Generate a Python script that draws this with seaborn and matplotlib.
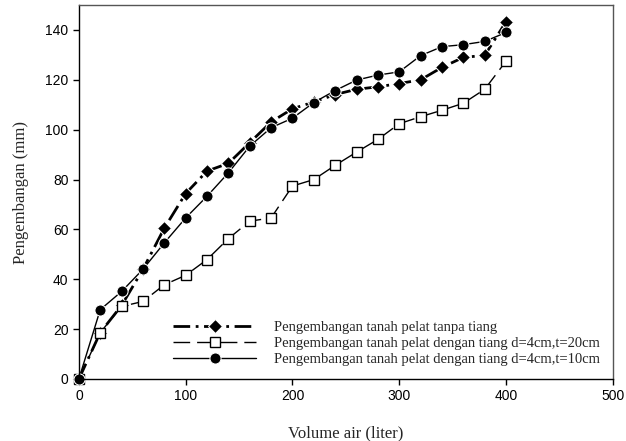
import matplotlib
matplotlib.use('Agg')
import matplotlib.pyplot as plt
import seaborn as sns

# data
volume = [0, 20, 40, 60, 80, 100, 120, 140, 160, 180, 200,
          220, 240, 260, 280, 300, 320, 340, 360, 380, 400]
tanpa_tiang = [0, 18.6, 29.5, 44, 60.5, 74.4, 83.4, 86.5, 94.8, 103.1, 108.4,
               111.1, 114.1, 116.2, 117.2, 118.5, 120, 125, 129, 129.8, 143.3]
tiang_t20 = [0, 18.6, 29.1, 31.1, 37.8, 41.6, 47.9, 56.3, 63.3, 64.6, 77.4,
             80, 85.7, 91, 96.1, 102.4, 105.2, 107.8, 110.6, 116.2, 127.5]
tiang_t10 = [0, 27.8, 35.1, 44, 54.6, 64.6, 73.3, 82.7, 93.4, 100.8, 104.6,
             110.9, 115.7, 119.9, 121.9, 123.2, 129.7, 133.3, 134.1, 135.4, 139]
labels = ['Pengembangan tanah pelat tanpa tiang',
          'Pengembangan tanah pelat dengan tiang d=4cm,t=20cm',
          'Pengembangan tanah pelat dengan tiang d=4cm,t=10cm']

sns.set_style("ticks")

fig = plt.figure(figsize=(6.26, 4.41), dpi=100)
ax = fig.add_axes([0.126, 0.1406, 0.853, 0.848])

sns.lineplot(x=volume, y=tanpa_tiang, ax=ax, color='black', linewidth=2,
             marker='D', markersize=7, dashes=False, label=labels[0], clip_on=False)
ax.lines[-1].set_linestyle((0, (6, 2, 1, 2)))
sns.lineplot(x=volume, y=tiang_t20, ax=ax, color='black', linewidth=1,
             marker='s', markersize=6.5, markerfacecolor='white', markeredgecolor='black',
             markeredgewidth=1, label=labels[1], clip_on=False)
ax.lines[-1].set_linestyle((0, (12, 5)))
sns.lineplot(x=volume, y=tiang_t10, ax=ax, color='black', linewidth=1,
             marker='o', markersize=8, label=labels[2], clip_on=False)

ax.set_xlim(0, 500)
ax.set_ylim(0, 150)
ax.set_xticks([0, 100, 200, 300, 400, 500])
ax.set_yticks([0, 20, 40, 60, 80, 100, 120, 140])
for lab in ax.get_xticklabels() + ax.get_yticklabels():
    lab.set_family('Liberation Sans')
ax.tick_params(labelsize=10, direction='out', length=4, width=1, colors='black')

ax.set_xlabel('Volume air (liter)', family='Liberation Serif', fontsize=12, labelpad=16)
ax.set_ylabel('Pengembangan (mm)', family='Liberation Serif', fontsize=12, labelpad=12)

for s in ['left', 'bottom']:
    ax.spines[s].set_color('black')
for s in ['top', 'right']:
    ax.spines[s].set_color('#555555')
for s in ax.spines.values():
    s.set_linewidth(1)

ax.legend(loc='lower right', bbox_to_anchor=(1.0, 0.0), frameon=False,
          prop={'family': 'Liberation Serif', 'size': 10.5}, handlelength=5.7,
          labelspacing=0.2, handletextpad=1.2)

fig.savefig('out.png', dpi=100)
